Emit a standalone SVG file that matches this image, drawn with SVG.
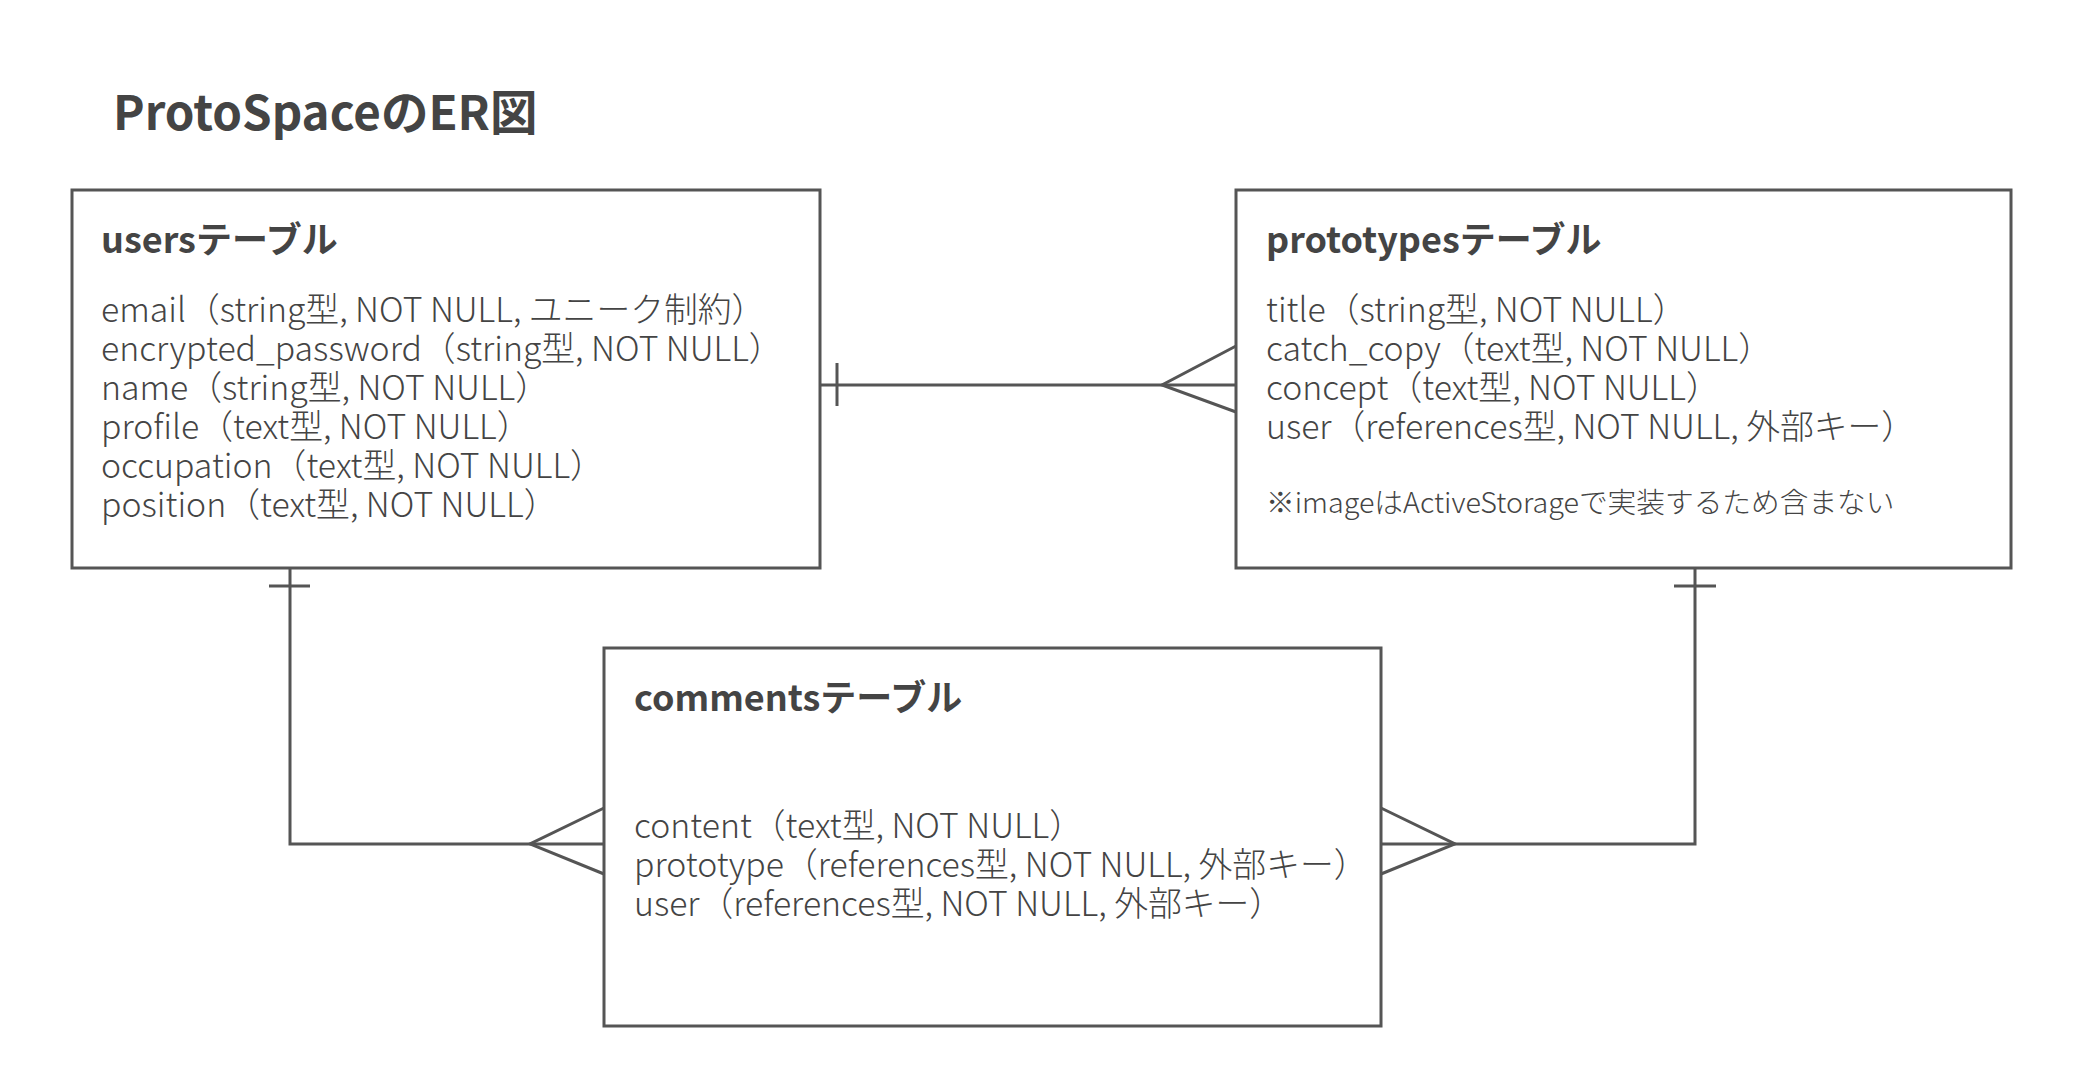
<svg xmlns="http://www.w3.org/2000/svg" width="2084" height="1084" viewBox="0 0 2084 1084">
<style>
.box{fill:#fff;stroke:#555;stroke-width:3}
.ln{fill:none;stroke:#555;stroke-width:3}
.t{font-family:"Noto Sans CJK JP","Noto Sans",sans-serif;fill:#444}
.title{font-size:47.5px;font-weight:700}
.hd{font-size:36px;font-weight:700}
.bd{font-size:33.8px;font-weight:300}
.nt{font-size:28.7px;font-weight:300}
</style>
<rect width="2084" height="1084" fill="#fff"/>
<text class="t title" x="113" y="130">ProtoSpaceのER図</text>
<g id="connectors">
<path class="ln" d="M820 385H1236"/>
<path class="ln" d="M837 363V406"/>
<path class="ln" d="M1236 346L1162 385L1236 412"/>
<path class="ln" d="M290 568V844H604"/>
<path class="ln" d="M269 586H310"/>
<path class="ln" d="M604 808L530 844L604 874"/>
<path class="ln" d="M1695 568V844H1381"/>
<path class="ln" d="M1674 586H1716"/>
<path class="ln" d="M1381 808L1455 844L1381 874"/>
</g>
<g id="users">
<rect class="box" x="72" y="190" width="748" height="378"/>
<text class="t hd" x="101" y="253">usersテーブル</text>
<text class="t bd" x="101" y="322">email（string型, NOT NULL, ユニーク制約）</text>
<text class="t bd" x="101" y="361">encrypted_password（string型, NOT NULL）</text>
<text class="t bd" x="101" y="400">name（string型, NOT NULL）</text>
<text class="t bd" x="101" y="439">profile（text型, NOT NULL）</text>
<text class="t bd" x="101" y="478">occupation（text型, NOT NULL）</text>
<text class="t bd" x="101" y="517">position（text型, NOT NULL）</text>
</g>
<g id="prototypes">
<rect class="box" x="1236" y="190" width="775" height="378"/>
<text class="t hd" x="1266" y="253">prototypesテーブル</text>
<text class="t bd" x="1266" y="322">title（string型, NOT NULL）</text>
<text class="t bd" x="1266" y="361">catch_copy（text型, NOT NULL）</text>
<text class="t bd" x="1266" y="400">concept（text型, NOT NULL）</text>
<text class="t bd" x="1266" y="439">user（references型, NOT NULL, 外部キー）</text>
<text class="t nt" x="1266" y="513">※imageはActiveStorageで実装するため含まない</text>
</g>
<g id="comments">
<rect class="box" x="604" y="648" width="777" height="378"/>
<text class="t hd" x="634" y="711">commentsテーブル</text>
<text class="t bd" x="634" y="838">content（text型, NOT NULL）</text>
<text class="t bd" x="634" y="877">prototype（references型, NOT NULL, 外部キー）</text>
<text class="t bd" x="634" y="916">user（references型, NOT NULL, 外部キー）</text>
</g>
</svg>
